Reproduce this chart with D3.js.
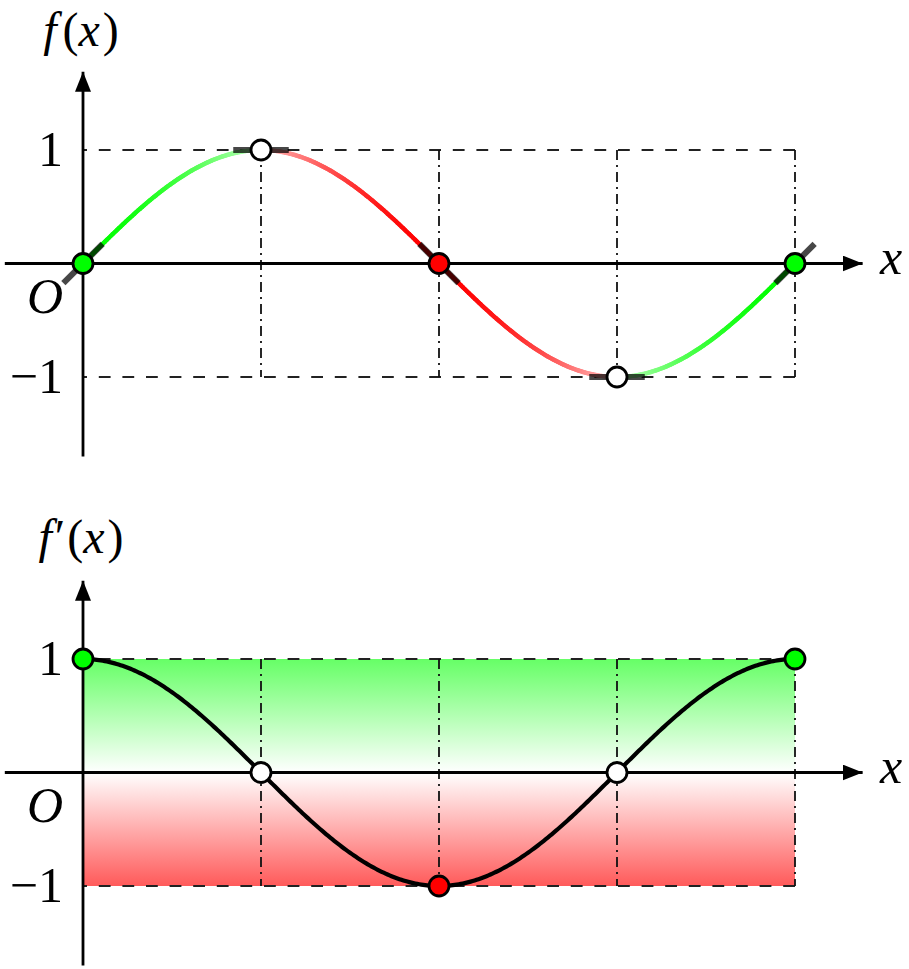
<!DOCTYPE html>
<html><head><meta charset="utf-8">
<script src="https://cdn.jsdelivr.net/npm/d3@7"></script>
<style>body{margin:0;background:#fff}svg{display:block}</style>
</head><body>
<svg id="c" width="909" height="969"></svg>
<script>
const PI = Math.PI;
// key abscissae and values (f = sin, f' = cos)
const keyX = [0, PI/2, PI, 3*PI/2, 2*PI];
const fValues = [0, 1, 0, -1, 0];
const dfValues = [1, 0, -1, 0, 1];
const fPointFill = ["#00ff00", "#ffffff", "#ff0000", "#ffffff", "#00ff00"];
const dfPointFill = ["#00ff00", "#ffffff", "#ff0000", "#ffffff", "#00ff00"];
const yTicks = [1, -1];
const yTickLabels = ["1", "\u22121"];
const gridX = [PI/2, PI, 3*PI/2, 2*PI];
const xDomainAxis = [-0.69, 6.88];
const yDomainAxis = [-1.7, 1.69];
const FONT = "'Liberation Serif', 'DejaVu Serif', 'Times New Roman', serif";

const svg = d3.select("#c");
const x = d3.scaleLinear().domain([0, 2*PI]).range([83, 795]);
const f = Math.sin, df = Math.cos;

const defs = svg.append("defs");
defs.append("marker").attr("id", "arr").attr("viewBox","0 0 20 16")
  .attr("refX", 20).attr("refY", 8).attr("markerWidth", 20).attr("markerHeight", 16)
  .attr("markerUnits","userSpaceOnUse").attr("orient","auto")
  .append("path").attr("d","M0,0 L20,8 L0,16 Z").attr("fill","#000");
const grad = defs.append("linearGradient").attr("id","g").attr("x1",0).attr("y1",0).attr("x2",0).attr("y2",1);
grad.append("stop").attr("offset","0%").attr("stop-color","#66ff66");
grad.append("stop").attr("offset","50%").attr("stop-color","#ffffff");
grad.append("stop").attr("offset","100%").attr("stop-color","#ff5a5a");

function txt(g, size) {
  return g.append("text").attr("font-family", FONT).attr("font-size", size || 50).attr("fill", "#000");
}

function panel(y, opts) {
  const g = svg.append("g");
  if (opts.fill) {
    g.append("rect").attr("x", x(0)).attr("y", y(1)).attr("width", x(2*PI)-x(0))
      .attr("height", y(-1)-y(1)).attr("fill","url(#g)");
  }
  yTicks.forEach(t => {
    g.append("line").attr("x1", x(2*PI)).attr("x2", x(0)).attr("y1", y(t)).attr("y2", y(t))
      .attr("stroke","#222").attr("stroke-width",1.8).attr("stroke-dasharray","11.8,11.8");
  });
  gridX.forEach(v => {
    g.append("line").attr("x1", x(v)).attr("x2", x(v)).attr("y1", y(1)).attr("y2", y(-1))
      .attr("stroke","#111").attr("stroke-width",1.8).attr("stroke-dasharray","10,5,2,5");
  });
  g.append("line").attr("x1", x(xDomainAxis[0])).attr("x2", x(xDomainAxis[1])).attr("y1", y(0)).attr("y2", y(0))
    .attr("stroke","#000").attr("stroke-width",2.8).attr("marker-end","url(#arr)");
  g.append("line").attr("x1", x(0)).attr("x2", x(0)).attr("y1", y(yDomainAxis[0])).attr("y2", y(yDomainAxis[1]))
    .attr("stroke","#000").attr("stroke-width",2.8).attr("marker-end","url(#arr)");
  yTicks.forEach((t,i) => {
    txt(g).attr("x", 63).attr("y", y(t)+16).attr("text-anchor","end").text(yTickLabels[i]);
  });
  txt(g).attr("x", 63).attr("y", y(0)+49).attr("text-anchor","end").attr("font-style","italic").text("O");
  txt(g).attr("x", 880).attr("y", y(0)+10).attr("font-style","italic").text("x");
  const lab = txt(g, 48).attr("x", 81).attr("y", opts.labelY).attr("text-anchor","middle");
  lab.append("tspan").attr("font-style","italic").text("f");
  if (opts.prime) lab.append("tspan").attr("dx", 3).text("\u2032");
  lab.append("tspan").attr("dx", opts.prime ? 2 : 6).text("(");
  lab.append("tspan").attr("font-style","italic").text("x");
  lab.append("tspan").attr("dx", 3).text(")");
  return g;
}

// ---- top panel
const yT = d3.scaleLinear().domain([-1,1]).range([377, 150]);
const gT = panel(yT, {labelY: 46, prime: false});
const N = 360;
const xs = d3.range(N+1).map(i => i/N*2*PI);
for (let i = 0; i < N; i++) {
  const a = xs[i], b = xs[i+1], m = (a+b)/2;
  const c = df(m);
  const base = c >= 0 ? "#00ff00" : "#ff0000";
  const alpha = 0.25 + 0.75*Math.abs(c);
  gT.append("line").attr("x1", x(a)).attr("y1", yT(f(a))).attr("x2", x(b)).attr("y2", yT(f(b)))
    .attr("stroke", d3.interpolateRgb("#ffffff", base)(alpha)).attr("stroke-width", 4.4).attr("stroke-linecap","round");
}
const L = 0.245;
keyX.forEach((k,i) => {
  const s = dfValues[i];
  const dx = L/Math.sqrt(1+s*s);
  gT.append("line").attr("x1", x(k-dx)).attr("y1", yT(fValues[i]-s*dx))
    .attr("x2", x(k+dx)).attr("y2", yT(fValues[i]+s*dx))
    .attr("stroke","#000").attr("stroke-opacity",0.72).attr("stroke-width",6);
});
keyX.forEach((k,i) => {
  gT.append("circle").attr("cx", x(k)).attr("cy", yT(fValues[i])).attr("r", 10)
    .attr("fill", fPointFill[i]).attr("stroke","#000").attr("stroke-width",2.8);
});

// ---- bottom panel
const yB = d3.scaleLinear().domain([-1,1]).range([886, 659]);
const gB = panel(yB, {labelY: 553, prime: true, fill: true});
gB.append("path").datum(xs).attr("d", d3.line().x(d => x(d)).y(d => yB(df(d))))
  .attr("fill","none").attr("stroke","#000").attr("stroke-width",4.2);
keyX.forEach((k,i) => {
  gB.append("circle").attr("cx", x(k)).attr("cy", yB(dfValues[i])).attr("r", 10)
    .attr("fill", dfPointFill[i]).attr("stroke","#000").attr("stroke-width",2.8);
});
</script>
</body></html>
